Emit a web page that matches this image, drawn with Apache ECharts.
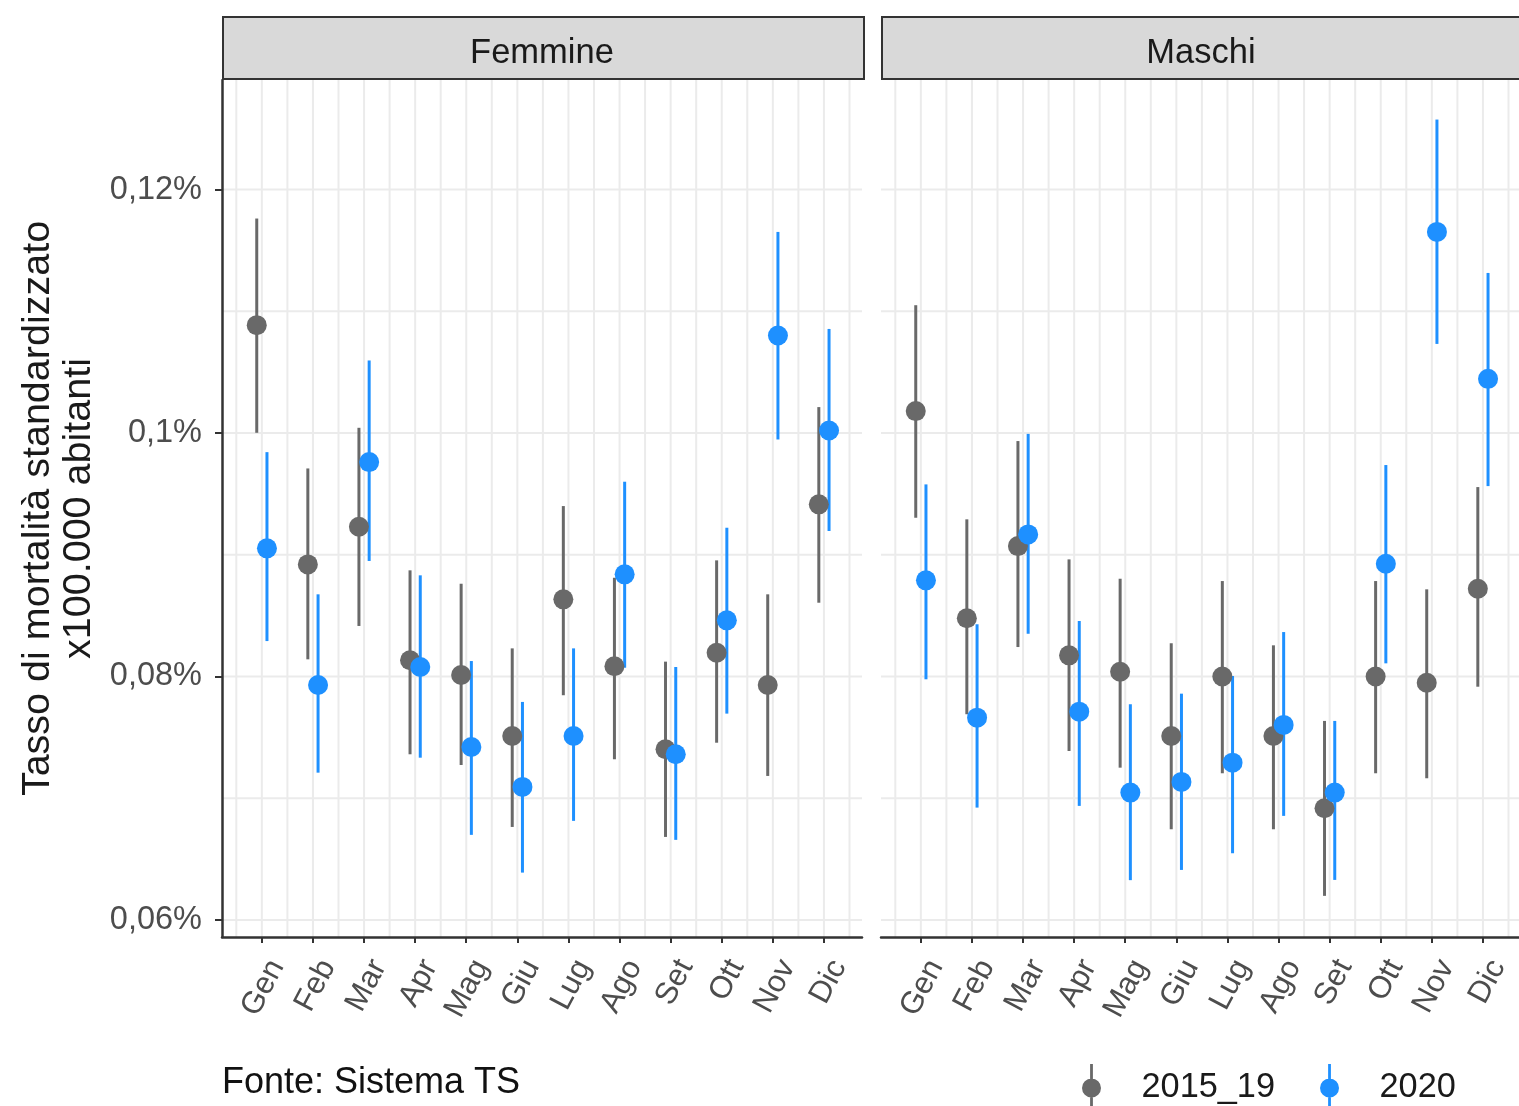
<!DOCTYPE html>
<html>
<head>
<meta charset="utf-8">
<script src="https://cdn.jsdelivr.net/npm/echarts@6/dist/echarts.min.js"></script>
<style>
  html, body { margin: 0; padding: 0; background: #fff; }
  #chart { width: 1519px; height: 1106px; }
</style>
</head>
<body>
<div id="chart"></div>
<script>
// ---------- data ----------
const months = ['Gen','Feb','Mar','Apr','Mag','Giu','Lug','Ago','Set','Ott','Nov','Dic'];
const panels = ['Femmine', 'Maschi'];
const groups = ['2015_19', '2020'];

// Femmine, 2015_19
const femBaseMid  = [0.10886,0.08921,0.09230,0.08133,0.08012,0.07511,0.08634,0.08084,0.07402,0.08195,0.07930,0.09414];
const femBaseLow  = [0.10002,0.08141,0.08415,0.07361,0.07273,0.06764,0.07846,0.07320,0.06682,0.07456,0.07183,0.08606];
const femBaseHigh = [0.11762,0.09709,0.10043,0.08872,0.08762,0.08231,0.09400,0.08811,0.08122,0.08954,0.08675,0.10213];
// Femmine, 2020
const fem2020Mid  = [0.09053,0.07930,0.09761,0.08078,0.07421,0.07093,0.07511,0.08839,0.07361,0.08461,0.10801,0.10021];
const fem2020Low  = [0.08291,0.07210,0.08949,0.07333,0.06699,0.06389,0.06814,0.08072,0.06658,0.07695,0.09947,0.09195];
const fem2020High = [0.09843,0.08675,0.10596,0.08831,0.08127,0.07791,0.08231,0.09600,0.08078,0.09222,0.11652,0.10855];
// Maschi, 2015_19
const masBaseMid  = [0.10180,0.08478,0.09071,0.08174,0.08039,0.07511,0.08000,0.07511,0.06918,0.08000,0.07949,0.08721];
const masBaseLow  = [0.09304,0.07690,0.08242,0.07388,0.07251,0.06745,0.07205,0.06745,0.06198,0.07205,0.07164,0.07916];
const masBaseHigh = [0.11050,0.09291,0.09934,0.08962,0.08803,0.08273,0.08784,0.08256,0.07635,0.08784,0.08716,0.09556];
// Maschi, 2020
const mas2020Mid  = [0.08790,0.07662,0.09167,0.07711,0.07046,0.07134,0.07292,0.07602,0.07046,0.08926,0.11652,0.10445];
const mas2020Low  = [0.07977,0.06923,0.08351,0.06937,0.06327,0.06411,0.06548,0.06855,0.06329,0.08108,0.10732,0.09564];
const mas2020High = [0.09578,0.08429,0.09993,0.08456,0.07772,0.07859,0.08004,0.08365,0.07635,0.09737,0.12575,0.11315];

const yTickValues = [0.06, 0.08, 0.10, 0.12];
const yTickLabels = ['0,06%', '0,08%', '0,1%', '0,12%'];
const yGridValues = [0.06, 0.07, 0.08, 0.09, 0.10, 0.11, 0.12];
const xTickValues = [1,2,3,4,5,6,7,8,9,10,11,12];
const xGridValues = [0.5,1,1.5,2,2.5,3,3.5,4,4.5,5,5.5,6,6.5,7,7.5,8,8.5,9,9.5,10,10.5,11,11.5,12,12.5];
const yTitle = 'Tasso di mortalità standardizzato\nx100.000 abitanti';
const caption = 'Fonte: Sistema TS';

// ---------- style ----------
const FONT = "'Liberation Sans', Arial, sans-serif";
const GRAY = '#696969';
const BLUE = '#1E90FF';
const DODGE = 0.1;
const X_MIN = 0.22, X_MAX = 12.745;
const Y_MIN = 0.0586, Y_MAX = 0.1290;

const panelData = [
  { base: [femBaseMid, femBaseLow, femBaseHigh], cur: [fem2020Mid, fem2020Low, fem2020High] },
  { base: [masBaseMid, masBaseLow, masBaseHigh], cur: [mas2020Mid, mas2020Low, mas2020High] }
];

const grids = [
  { left: 222, top: 80, width: 640, height: 857 },
  { left: 881, top: 80, width: 640, height: 857 }
];

function labelFmtY(v) {
  let best = 0;
  yTickValues.forEach((t, i) => { if (Math.abs(t - v) < Math.abs(yTickValues[best] - v)) best = i; });
  return yTickLabels[best];
}

const xAxes = grids.map((g, i) => ({
  type: 'value', gridIndex: i, min: X_MIN, max: X_MAX,
  axisLine: { show: true, onZero: false, lineStyle: { color: '#333', width: 2.5 } },
  axisTick: { show: true, customValues: xTickValues, length: 6, lineStyle: { color: '#333', width: 2 } },
  axisLabel: {
    show: true, customValues: xTickValues,
    formatter: v => months[Math.round(v) - 1],
    rotate: 62, color: '#4d4d4d', fontSize: 31, fontFamily: FONT, margin: 17,
    verticalAlign: 'top', lineHeight: 34
  },
  splitLine: { show: false }
}));

const yAxes = grids.map((g, i) => ({
  type: 'value', gridIndex: i, min: Y_MIN, max: Y_MAX,
  axisLine: { show: i === 0, lineStyle: { color: '#333', width: 2.5 } },
  axisTick: { show: i === 0, customValues: yTickValues, length: 7, lineStyle: { color: '#333', width: 2 } },
  axisLabel: {
    show: i === 0, customValues: yTickValues, formatter: labelFmtY,
    color: '#4d4d4d', fontSize: 32.5, fontFamily: FONT, margin: 20
  },
  splitLine: { show: false },
  name: i === 0 ? yTitle : '',
  nameLocation: 'middle', nameRotate: 90, nameGap: 122, nameMoveOverlap: false,
  nameTextStyle: { fontSize: 39.5, fontFamily: FONT, color: '#1a1a1a', lineHeight: 41 }
}));

const series = [];
grids.forEach((g, p) => {
  // grid lines
  const gl = [];
  xGridValues.forEach(v => gl.push([0, v]));
  yGridValues.forEach(v => gl.push([1, v]));
  series.push({
    type: 'custom', xAxisIndex: p, yAxisIndex: p, silent: true, z: 0,
    data: gl, encode: { x: -1, y: -1 },
    renderItem: (params, api) => {
      const cs = params.coordSys;
      const kind = api.value(0), v = api.value(1);
      let shape;
      if (kind === 0) {
        const x = api.coord([v, Y_MIN])[0];
        shape = { x1: x, y1: cs.y, x2: x, y2: cs.y + cs.height };
      } else {
        const y = api.coord([X_MIN, v])[1];
        shape = { x1: cs.x, y1: y, x2: cs.x + cs.width, y2: y };
      }
      return { type: 'line', shape, style: { stroke: '#ebebeb', lineWidth: 2 } };
    }
  });
  const sets = [
    { name: groups[0], color: GRAY, arr: panelData[p].base, off: -DODGE },
    { name: groups[1], color: BLUE, arr: panelData[p].cur, off: DODGE }
  ];
  sets.forEach(s => {
    const [mid, low, high] = s.arr;
    series.push({
      type: 'custom', name: s.name, xAxisIndex: p, yAxisIndex: p, z: 2,
      data: months.map((m, i) => [i + 1 + s.off, low[i], high[i]]),
      encode: { x: 0, y: [1, 2] },
      renderItem: (params, api) => {
        const a = api.coord([api.value(0), api.value(1)]);
        const b = api.coord([api.value(0), api.value(2)]);
        return { type: 'line', shape: { x1: a[0], y1: a[1], x2: b[0], y2: b[1] },
                 style: { stroke: s.color, lineWidth: 3 } };
      }
    });
    series.push({
      type: 'scatter', name: s.name, xAxisIndex: p, yAxisIndex: p, z: 3,
      symbol: 'circle', symbolSize: 20,
      itemStyle: { color: s.color, opacity: 1 },
      data: months.map((m, i) => [i + 1 + s.off, mid[i]])
    });
  });
});

const KEY_ICON = 'path://M8.6,0 L11.4,0 L11.4,48 L8.6,48 Z M0.5,24 A9.5,9.5 0 1,1 19.5,24 A9.5,9.5 0 1,1 0.5,24 Z';

const option = {
  backgroundColor: '#fff',
  animation: false,
  grid: grids.map(g => Object.assign({ containLabel: false, outerBoundsMode: 'none' }, g)),
  xAxis: xAxes,
  yAxis: yAxes,
  legend: {
    left: 1077, top: 1059, orient: 'horizontal',
    itemWidth: 90, itemHeight: 48, itemGap: 45,
    data: [
      { name: groups[0], icon: KEY_ICON, itemStyle: { color: GRAY } },
      { name: groups[1], icon: KEY_ICON, itemStyle: { color: BLUE } }
    ],
    textStyle: { fontSize: 34.3, fontFamily: FONT, color: '#1a1a1a' },
    selectedMode: false
  },
  graphic: [
    { type: 'rect', left: 222, top: 16, shape: { width: 641, height: 62 },
      style: { fill: '#d9d9d9', stroke: '#333', lineWidth: 2 }, z: 10 },
    { type: 'rect', left: 881, top: 16, shape: { width: 660, height: 62 },
      style: { fill: '#d9d9d9', stroke: '#333', lineWidth: 2 }, z: 10 },
    { type: 'text', x: 542, y: 53, z: 11,
      style: { text: panels[0], fill: '#1a1a1a', font: '34.5px ' + FONT, textAlign: 'center', textVerticalAlign: 'middle' } },
    { type: 'text', x: 1201, y: 53, z: 11,
      style: { text: panels[1], fill: '#1a1a1a', font: '34.5px ' + FONT, textAlign: 'center', textVerticalAlign: 'middle' } },
    { type: 'text', x: 222, y: 1083, z: 11,
      style: { text: caption, fill: '#111', font: '36px ' + FONT, textAlign: 'left', textVerticalAlign: 'middle' } }
  ],
  series: series
};

const chart = echarts.init(document.getElementById('chart'), null, { renderer: 'canvas' });
chart.setOption(option);
</script>
</body>
</html>
